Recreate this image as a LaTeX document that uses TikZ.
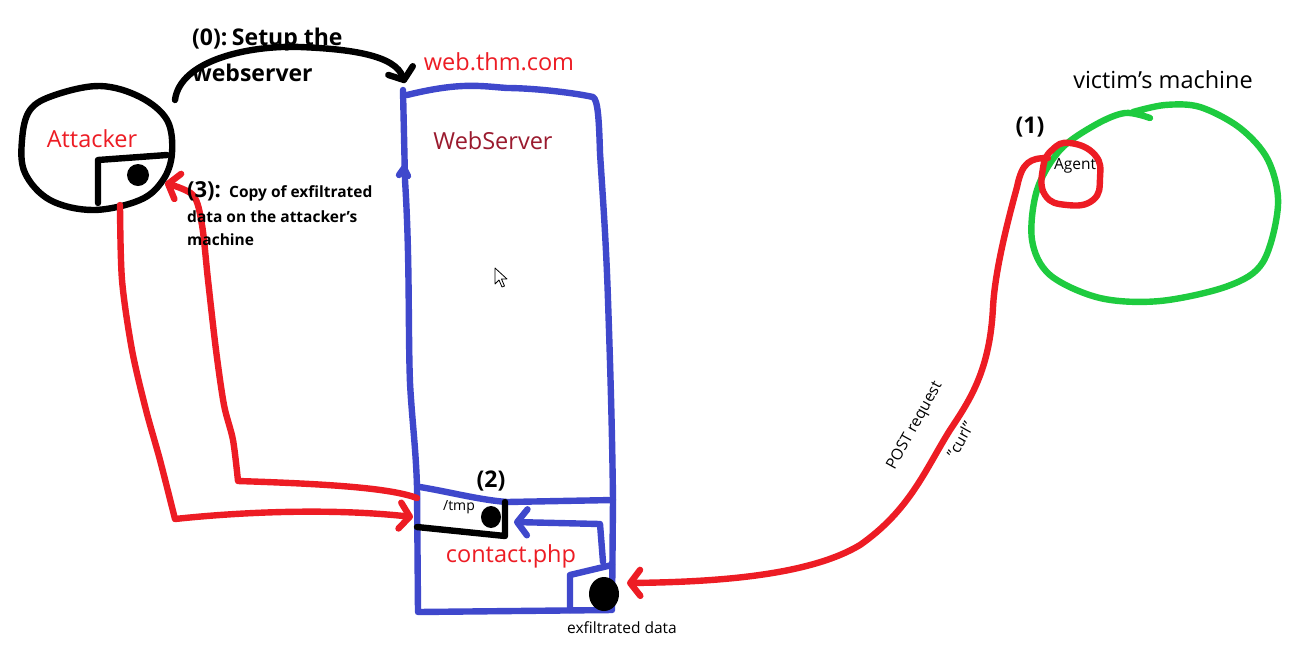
\documentclass[tikz,border=0pt]{standalone}
\usepackage{fontspec}
\setmainfont{Open Sans}
\usetikzlibrary{arrows.meta}
\definecolor{pred}{HTML}{ED1C24}
\definecolor{pblue}{HTML}{3F48CC}
\definecolor{pgreen}{HTML}{1ECB3F}
\definecolor{pdred}{HTML}{9A1A2E}
\begin{document}
\begin{tikzpicture}[x=1pt,y=-1pt,
  pen/.style={line width=6.4pt,line cap=round,line join=round},
  redpen/.style={pen,draw=pred},
  bluepen/.style={pen,draw=pblue},
  blackpen/.style={pen,draw=black},
  greenpen/.style={pen,draw=pgreen},
  barb/.style={-{Straight Barb[length=10pt,width=26pt,line width=6.4pt,round]}},
  lbl/.style={inner sep=0pt,anchor=center},
  big/.style={font=\fontsize{23.5}{28}\selectfont},
  bigb/.style={font=\bfseries\fontsize{23}{28}\selectfont},
  midb/.style={font=\bfseries\fontsize{15.5}{19}\selectfont},
  small/.style={font=\fontsize{15.5}{19}\selectfont},
  dot/.style={fill=black,draw=none}]
\useasboundingbox (0,0) rectangle (1311,649);
\fill[white] (0,0) rectangle (1311,649);

% ---------- Attacker blob ----------
\draw[blackpen] plot[smooth cycle,tension=0.6] coordinates {
  (55,95) (100,86) (140,97) (167,120) (172,153) (163,180) (140,200) (93,210) (50,200) (25,173) (22,140) (30,110)};
\draw[blackpen] (98,203) -- (98,160) -- (167,155);
\fill[dot] (138,175) ellipse (11 and 11);
\node[lbl,text=pred,big] (attacker) at (92,139) {Attacker};
\coordinate (atkout) at (120,205);
\coordinate (atkin) at (165,183);

% ---------- (0) arc ----------
\coordinate (arcS) at (175,100);
\coordinate (arcE) at (405,83);
\draw[blackpen,barb] (arcS) .. controls (180,60) and (250,45) .. (300,47)
   .. controls (350,49) and (395,55) .. (arcE);
\node[lbl,anchor=west,bigb] (step0a) at (192,40) {(0):\hspace{-0.15em} Setup the};
\node[lbl,anchor=west,bigb] (step0b) at (192,73) {webserver};

% ---------- Webserver ----------
\node[lbl,text=pred,big] (webhost) at (499,62) {web.thm.com};
\draw[bluepen] (403,90) -- (405,180) .. controls (410,260) and (408,330) .. (410,383)
  .. controls (412,420) and (416,450) .. (417,487) -- (418,612) -- (612,610)
  -- (613,500) .. controls (612,420) and (610,360) .. (608,300)
  .. controls (606,240) and (603,200) .. (600,153) .. controls (599,120) and (598,100) .. (593,97)
  .. controls (570,92) and (530,88) .. (507,88) .. controls (480,86) and (460,82) .. (407,95);
\draw[bluepen] (399,175) -- (404,168) -- (408,176);
\draw[bluepen] (420,487) .. controls (450,492) and (480,500) .. (507,502) -- (613,500);
\node[lbl,text=pdred,big] (websrv) at (493,141) {WebServer};

% cursor
\draw[line width=0.8pt,fill=white,line join=round] (495,268) -- (495,284) -- (499,280) -- (502,287) -- (504.5,286) -- (501.5,279) -- (507,279) -- cycle;

% /tmp box
\draw[blackpen] (417,527) -- (505,536) -- (505,502);
\fill[dot] (491,517) ellipse (10 and 11);
\node[lbl,font=\fontsize{14}{17}\selectfont] (tmp) at (459,507) {/tmp};
\node[lbl,bigb] (step2) at (491,481) {(2)};
\node[lbl,text=pred,big] (contact) at (511,556) {contact.php};

% exfiltrated data box
\draw[bluepen] (570,610) -- (570,575) -- (612,565);
\coordinate (bluestart) at (603,562);
\coordinate (bluetip) at (514,522);
\draw[bluepen,barb] (bluestart) -- (600,524) -- (bluetip);
\fill[dot] (604,594) ellipse (15 and 17);
\node[lbl,small] (exfil) at (622,628) {exfiltrated data};

% ---------- red arrows on the left ----------
\coordinate (tmpin) at (413,517);
\draw[redpen,barb] plot[smooth,tension=0.5] coordinates {
  (atkout) (122,280) (132,350) (146,410) (160,460) (175,519)}
  .. controls (240,512) and (330,508) .. (tmpin);
\coordinate (srvout) at (417,498);
\draw[redpen,barb] (srvout) .. controls (390,488) and (330,484) .. (238,481)
  -- plot[smooth,tension=0.5] coordinates {(238,481) (233,440) (224,405) (216,350) (208,280) (202,225) (193,195) (atkin)};

\node[lbl,anchor=base west,font=\bfseries\fontsize{22}{26}\selectfont] (step3) at (187,197) {(3):};
\node[lbl,anchor=base west,midb] (step3t) at (229,197) {Copy of exfiltrated};
\node[lbl,anchor=base west,midb] (step3u) at (187,222) {data on the attacker's};
\node[lbl,anchor=base west,midb] (step3v) at (187,245) {machine};

% ---------- victim ----------
\node[lbl,big] (victim) at (1163,80) {victim's machine};
\draw[greenpen] plot[smooth,tension=0.55] coordinates {
  (1150,118) (1125,113) (1095,125) (1060,150) (1037,190) (1032,240) (1050,275) (1100,298)
  (1160,301) (1228,286) (1263,262) (1278,205) (1268,160) (1240,128) (1200,107) (1165,105) (1133,112)};
\draw[redpen] plot[smooth cycle,tension=0.8] coordinates {
  (1070,143) (1095,155) (1100,178) (1093,200) (1067,205) (1045,195) (1043,168) (1052,150)};
\node[lbl,font=\fontsize{15.5}{19}\selectfont] (agent) at (1075,166) {Agent};
\node[lbl,bigb] (step1) at (1030,127) {(1)};

\coordinate (agentout) at (1048,158);
\coordinate (phpin) at (627,583);
\draw[redpen,barb] (agentout) .. controls (1030,158) and (1022,162) .. (1017,187)
  .. controls (1008,220) and (995,270) .. (993,307)
  .. controls (990,370) and (970,400) .. (950,430)
  .. controls (925,470) and (910,510) .. (860,545)
  .. controls (810,575) and (720,582) .. (phpin);
\node[lbl,rotate=61,small] (post) at (915,426) {POST request};
\node[lbl,rotate=61,small] (curl) at (960,440) {"curl"};
\end{tikzpicture}
\end{document}
